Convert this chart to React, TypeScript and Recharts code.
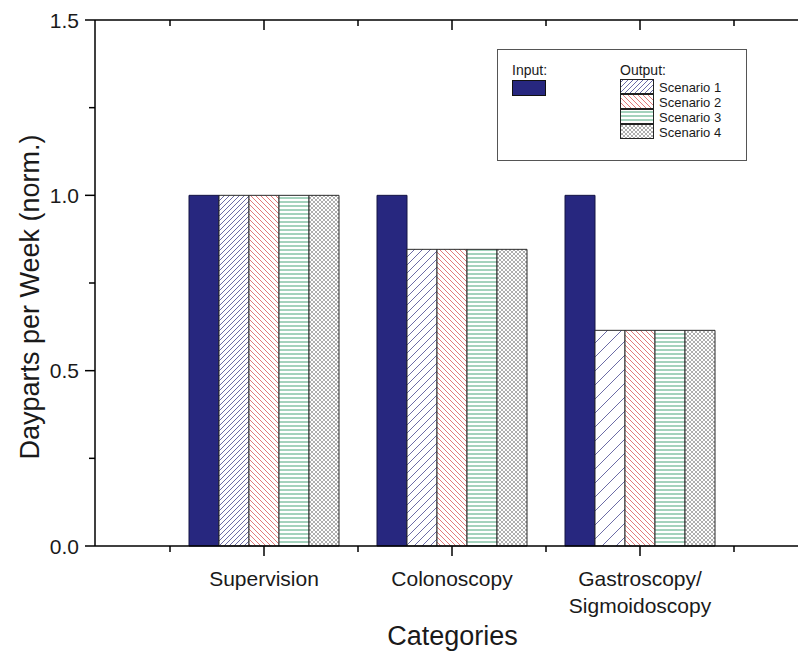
import React from "react";
import { Bar, BarChart, Cell, XAxis, YAxis } from "recharts";

const categories = ["Supervision", "Colonoscopy", "Gastroscopy/\nSigmoidoscopy"];
const inputValues = [1, 1, 1];
const scenario1 = [1, 0.846, 0.615];
const scenario2 = [1, 0.846, 0.615];
const scenario3 = [1, 0.846, 0.615];
const scenario4 = [1, 0.846, 0.615];
const scenarioNames = ["Scenario 1", "Scenario 2", "Scenario 3", "Scenario 4"];
const yTicks = [0, 0.25, 0.5, 0.75, 1, 1.25, 1.5];

const data = categories.map((name, i) => ({
  name,
  input: inputValues[i],
  s1: scenario1[i],
  s2: scenario2[i],
  s3: scenario3[i],
  s4: scenario4[i],
}));

const FONT = "'Liberation Sans', Arial, Helvetica, sans-serif";
const NAVY = "#27277f";
const EDGE = "#2b2b2b";
// hatch spacing of scenario 1 differs per group
const s1Spacing = [5, 8, 14];
const scenarioFills = ["url(#fwd-5)", "url(#back)", "url(#horiz)", "url(#cross)"];

const Hatches = () => (
  <defs>
    {[5, 8, 14].map((s) => (
      <pattern key={s} id={`fwd-${s}`} width={s} height={s} patternUnits="userSpaceOnUse">
        <rect width={s} height={s} fill="#fff" />
        <path
          d={`M0,${s} L${s},0 M-1,1 L1,-1 M${s - 1},${s + 1} L${s + 1},${s - 1}`}
          stroke="#6c6ca6"
          strokeWidth={1}
        />
      </pattern>
    ))}
    <pattern id="back" width={5} height={5} patternUnits="userSpaceOnUse">
      <rect width={5} height={5} fill="#fff" />
      <path d="M0,0 L5,5 M-1,4 L1,6 M4,-1 L6,1" stroke="#e27a7a" strokeWidth={1} />
    </pattern>
    <pattern id="horiz" width={4} height={4} patternUnits="userSpaceOnUse">
      <rect width={4} height={4} fill="#fff" />
      <path d="M0,2 L4,2" stroke="#48a67a" strokeWidth={1} />
    </pattern>
    <pattern id="cross" width={4} height={4} patternUnits="userSpaceOnUse">
      <rect width={4} height={4} fill="#fff" />
      <path d="M0,0 L4,4 M4,0 L0,4" stroke="#9a9a9a" strokeWidth={0.8} />
    </pattern>
  </defs>
);

const LeftTick = ({ x, y, payload }: any) => {
  const major = Number.isInteger(payload.value * 2);
  return (
    <g>
      <line x1={x - (major ? 10 : 6)} x2={x} y1={y} y2={y} stroke="#000" strokeWidth={1.5} />
      {major && (
        <text x={x - 16} y={y} textAnchor="end" dominantBaseline="central" fontSize={21} fontFamily={FONT} fill="#1a1a1a">
          {payload.value.toFixed(1)}
        </text>
      )}
    </g>
  );
};

const RightTick = ({ x, y, payload }: any) => {
  const major = Number.isInteger(payload.value * 2);
  return <line x1={x - (major ? 10 : 6)} x2={x} y1={y} y2={y} stroke="#000" strokeWidth={1.5} />;
};

const BottomTick = ({ x, y, payload, index }: any) => {
  const half = payload.offset || 94;
  const lines = String(payload.value).split("\n");
  return (
    <g>
      <line x1={x} x2={x} y1={y} y2={y + 10} stroke="#000" strokeWidth={1.5} />
      <line x1={x + half} x2={x + half} y1={y} y2={y + 6} stroke="#000" strokeWidth={1.5} />
      {index === 0 && <line x1={x - half} x2={x - half} y1={y} y2={y + 6} stroke="#000" strokeWidth={1.5} />}
      <text x={x} y={y + 40} textAnchor="middle" fontSize={21} fontFamily={FONT} fill="#1a1a1a">
        {lines.map((l, i) => (
          <tspan key={i} x={x} dy={i === 0 ? 0 : 27}>
            {l}
          </tspan>
        ))}
      </text>
    </g>
  );
};

const TopTick = ({ x, y, payload, index }: any) => {
  const half = payload.offset || 94;
  return (
    <g>
      <line x1={x} x2={x} y1={y} y2={y + 10} stroke="#000" strokeWidth={1.5} />
      <line x1={x + half} x2={x + half} y1={y} y2={y + 6} stroke="#000" strokeWidth={1.5} />
      {index === 0 && <line x1={x - half} x2={x - half} y1={y} y2={y + 6} stroke="#000" strokeWidth={1.5} />}
    </g>
  );
};

const LegendBox = () => (
  <div
    style={{
      position: "absolute",
      left: 497,
      top: 49,
      width: 248,
      height: 110,
      border: "1px solid #555",
      background: "#fff",
    }}
  >
    <svg width={248} height={110} style={{ display: "block" }}>
      <text x={14} y={25} fontSize={14} fontFamily={FONT} fill="#1a1a1a">Input:</text>
      <rect x={14.5} y={30.5} width={33} height={15} fill={NAVY} stroke="#111" />
      <text x={122} y={25} fontSize={14} fontFamily={FONT} fill="#1a1a1a">Output:</text>
      {scenarioNames.map((name, i) => (
        <g key={name}>
          <rect x={122.5} y={29.5 + i * 15} width={33} height={14} fill={scenarioFills[i]} stroke="#222" />
          <text x={161} y={37 + i * 15} dominantBaseline="central" fontSize={13} fontFamily={FONT} fill="#1a1a1a">
            {name}
          </text>
        </g>
      ))}
    </svg>
  </div>
);

export default function App() {
  return (
    <div
      style={{
        position: "absolute",
        left: 0,
        top: 0,
        width: 798,
        height: 661,
        overflow: "hidden",
        background: "#fff",
      }}
    >
      <BarChart
        width={802}
        height={661}
        data={data}
        margin={{ top: 19, right: 1, bottom: 0, left: 0 }}
        barCategoryGap={19}
        barGap={0}
      >
        <Hatches />
        <XAxis
          dataKey="name"
          xAxisId={0}
          height={115}
          interval={0}
          padding={{ left: 75, right: 66 }}
          axisLine={{ stroke: "#000", strokeWidth: 1.5 }}
          tickLine={false}
          tickSize={0}
          tickMargin={0}
          tick={<BottomTick />}
          label={{
            content: ({ viewBox }: any) => (
              <text
                x={viewBox.x + viewBox.width / 2 + 5}
                y={viewBox.y + 90}
                textAnchor="middle"
                dominantBaseline="central"
                fontSize={27}
                fontFamily={FONT}
                fill="#1a1a1a"
              >
                Categories
              </text>
            ),
          }}
        />
        <XAxis
          dataKey="name"
          xAxisId="top"
          orientation="top"
          height={1}
          interval={0}
          padding={{ left: 75, right: 66 }}
          axisLine={{ stroke: "#000", strokeWidth: 1.5 }}
          tickLine={false}
          tickSize={0}
          tickMargin={0}
          tick={<TopTick />}
        />
        <YAxis
          yAxisId={0}
          width={95}
          domain={[0, 1.5]}
          ticks={yTicks}
          interval={0}
          axisLine={{ stroke: "#000", strokeWidth: 1.5 }}
          tickLine={false}
          tickSize={0}
          tickMargin={0}
          tick={<LeftTick />}
          label={{
            content: ({ viewBox }: any) => {
              const cx = viewBox.x + 30;
              const cy = viewBox.y + viewBox.height / 2 + 14;
              return (
                <text
                  transform={`translate(${cx},${cy}) rotate(-90)`}
                  textAnchor="middle"
                  dominantBaseline="central"
                  fontSize={27}
                  fontFamily={FONT}
                  fill="#1a1a1a"
                >
                  Dayparts per Week (norm.)
                </text>
              );
            },
          }}
        />
        <YAxis
          yAxisId="right"
          orientation="right"
          width={1}
          domain={[0, 1.5]}
          ticks={yTicks}
          interval={0}
          axisLine={{ stroke: "#000", strokeWidth: 1.5 }}
          tickLine={false}
          tickSize={0}
          tickMargin={0}
          tick={<RightTick />}
        />
        <Bar dataKey="input" name="Input" fill={NAVY} stroke="#151545" strokeWidth={1} isAnimationActive={false} />
        <Bar dataKey="s1" name={scenarioNames[0]} stroke={EDGE} strokeWidth={1} isAnimationActive={false}>
          {data.map((d, i) => (
            <Cell key={d.name} fill={`url(#fwd-${s1Spacing[i]})`} />
          ))}
        </Bar>
        <Bar dataKey="s2" name={scenarioNames[1]} fill="url(#back)" stroke={EDGE} strokeWidth={1} isAnimationActive={false} />
        <Bar dataKey="s3" name={scenarioNames[2]} fill="url(#horiz)" stroke={EDGE} strokeWidth={1} isAnimationActive={false} />
        <Bar dataKey="s4" name={scenarioNames[3]} fill="url(#cross)" stroke={EDGE} strokeWidth={1} isAnimationActive={false} />
      </BarChart>
      <LegendBox />
    </div>
  );
}
